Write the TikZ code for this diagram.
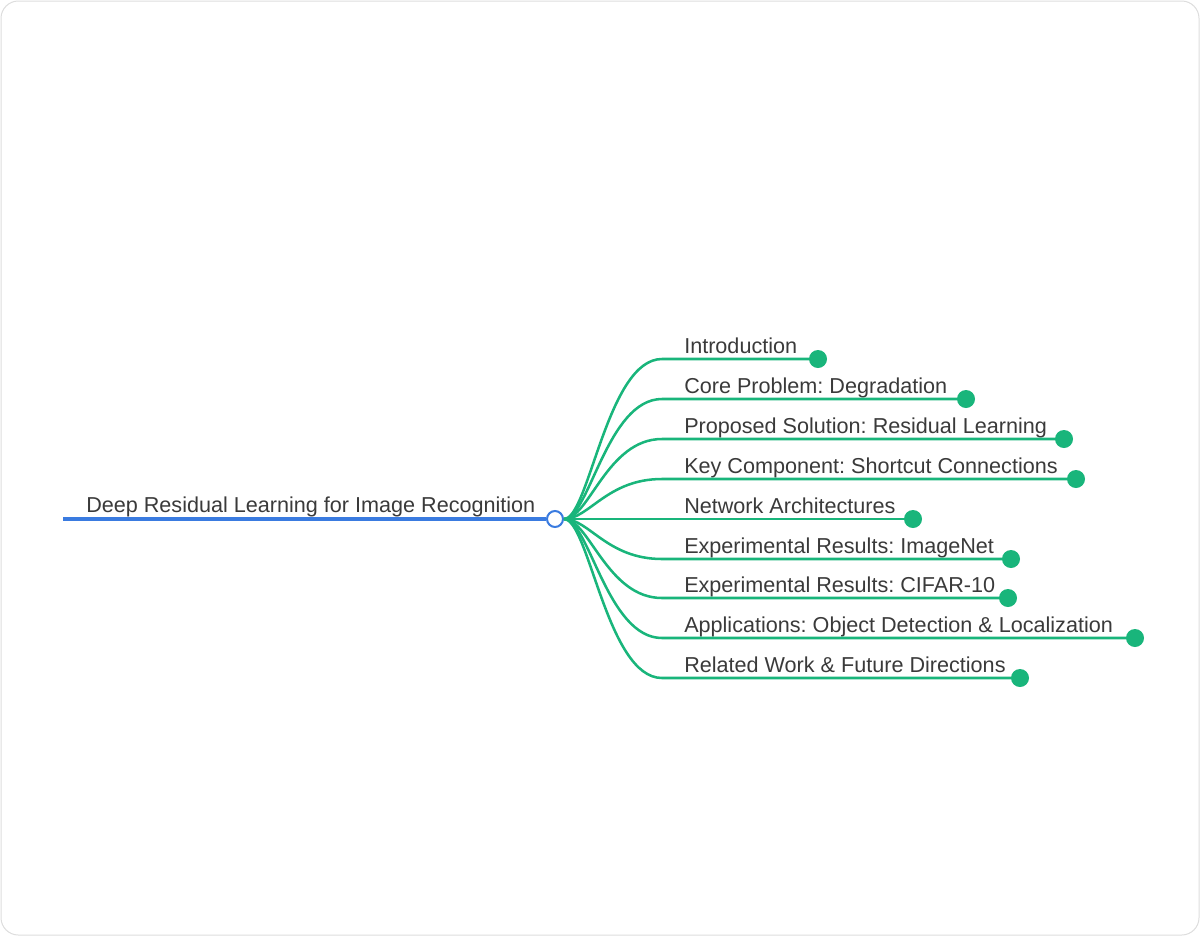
\documentclass[tikz,border=0pt]{standalone}
\usepackage{fontspec}
\setmainfont{Liberation Sans}
\frenchspacing
\definecolor{branchgreen}{HTML}{19B57B}
\definecolor{rootblue}{HTML}{3A7BE0}
\definecolor{textgray}{HTML}{3A3A3A}
\definecolor{framegray}{HTML}{DDDDDD}

\begin{document}
\begin{tikzpicture}[x=0.75pt,y=-0.75pt]
        % Define styles
        \tikzset{
            frame/.style={draw=framegray, line width=0.75pt, rounded corners=13pt},
            topic/.style={anchor=base west, inner sep=0pt, text=textgray, font=\fontsize{16.2pt}{19pt}\selectfont},
            hub/.style={circle, draw=rootblue, fill=white, line width=1.5pt, minimum size=12pt, inner sep=0pt},
            leafdot/.style={circle, fill=branchgreen, minimum size=13.5pt, inner sep=0pt},
            rootline/.style={draw=rootblue, line width=2.6pt},
            branch/.style={draw=branchgreen, line width=1.9pt}
        }
        \useasboundingbox (0,0) rectangle (1200,936);
        \draw[frame] (1,1) rectangle (1199,935);

        % Nodes
        \coordinate (root_start) at (63,519);
        \node[hub] (hub) at (555,519) {};
        \node[topic] (root_label) at (86,512) {Deep Residual Learning for Image Recognition};

        % Arrows
        \draw[rootline] (root_start) -- (hub.west);

        % Branches
        \foreach \y/\ex/\txt [count=\i] in {
            359/818/Introduction,
            399/966/Core Problem: Degradation,
            439/1064/Proposed Solution: Residual Learning,
            479/1076/Key Component: Shortcut Connections,
            519/913/Network Architectures,
            559/1011/Experimental Results: ImageNet,
            598/1008/Experimental Results: CIFAR-10,
            638/1135/Applications: Object Detection \& Localization,
            678/1020/Related Work \& Future Directions}{
            \coordinate (knee_\i) at (662,\y);
            \node[topic] (topic_\i) at (684,\y-6) {\txt};
            \draw[branch] (hub.east) .. controls +(25,0) and +(-55,0) .. (knee_\i) -- (\ex,\y) coordinate (tip_\i);
            \node[leafdot] (dot_\i) at (tip_\i) {};
        }
    \end{tikzpicture}
\end{document}
